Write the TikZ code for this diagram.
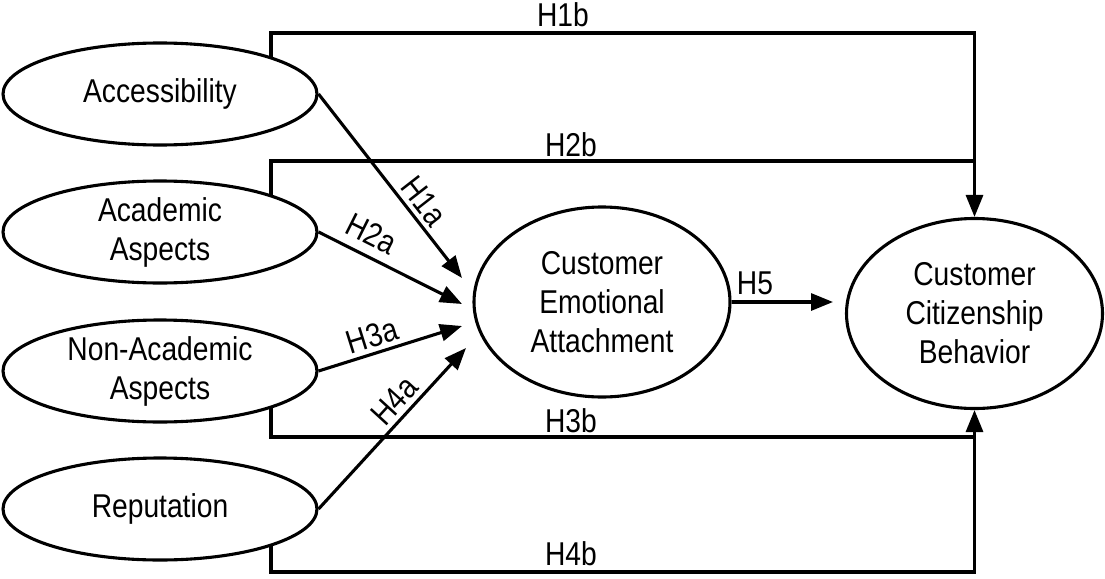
\documentclass[tikz,border=0pt]{standalone}
\usepackage{fontspec}
\setmainfont{Liberation Sans}[FakeStretch=0.855]
\usetikzlibrary{arrows.meta,backgrounds,shapes.geometric}
\begin{document}
\begin{tikzpicture}[x=1pt,y=-1pt,
  every node/.style={font=\fontsize{33pt}{39pt}\selectfont},
  construct/.style={ellipse, draw, fill=white, line width=3.1pt, inner sep=0pt, align=center},
  driver/.style={construct, minimum width=314pt, minimum height=102pt},
  outcome/.style={construct, minimum width=256pt, minimum height=190pt},
  link/.style={line width=3.1pt},
  arrow/.style={link, -{Triangle[length=22pt,width=17pt]}},
  hyp/.style={inner sep=0pt},
]
\useasboundingbox (0,0) rectangle (1105,578);

% constructs
\node[driver] (acc)   at (160,94)  {Accessibility};
\node[driver] (acad)  at (160,232) {Academic\\Aspects};
\node[driver] (nonac) at (160,371) {Non-Academic\\Aspects};
\node[driver] (rep)   at (160,509) {Reputation};
\node[outcome] (cea) at (602,302)   {Customer\\Emotional\\Attachment};
\node[outcome] (ccb) at (974.5,313.5) {Customer\\Citizenship\\Behavior};

% bend points and arrow ends
\coordinate (top1) at (974.5,33);
\coordinate (top2) at (974.5,161);
\coordinate (bot1) at (974.5,437);
\coordinate (bot2) at (974.5,572);
\coordinate (t1) at (462,278);
\coordinate (t2) at (462,304);
\coordinate (t3) at (462,326);
\coordinate (t4) at (466,348);
\coordinate (h5tip) at (833,302);

\begin{scope}[on background layer]
  % direct paths to citizenship behavior
  \draw[arrow] ([xshift=111pt]acc.center) |- (top1) -- (ccb.north);
  \draw[link]  ([xshift=111pt]acad.center) |- (top2);
  \draw[arrow] ([xshift=111pt]nonac.center) |- (bot1) -- (ccb.south);
  \draw[link]  ([xshift=111pt]rep.center) |- (bot2) -- (bot1);
  % paths to emotional attachment
  \draw[arrow] (acc.east) -- (t1)
    node[hyp, sloped, pos=0.64, above=4pt] (l1a) {H1a};
  \draw[arrow] (acad.east) -- (t2)
    node[hyp, sloped, pos=0.30, above=9pt] (l2a) {H2a};
  \draw[arrow] (nonac.east) -- (t3)
    node[hyp, sloped, pos=0.41, above=4pt] (l3a) {H3a};
  \draw[arrow] (rep.east) -- (t4)
    node[hyp, sloped, pos=0.60, above=4pt] (l4a) {H4a};
  \draw[arrow] (cea.east) -- (h5tip);
\end{scope}

% hypothesis labels
\node[hyp] (l1b) at (563,15)    {H1b};
\node[hyp] (l2b) at (571,145)   {H2b};
\node[hyp] (l3b) at (571,421)   {H3b};
\node[hyp] (l4b) at (571,554)   {H4b};
\node[hyp] (l5)  at (755,283.5) {H5};
\end{tikzpicture}
\end{document}
